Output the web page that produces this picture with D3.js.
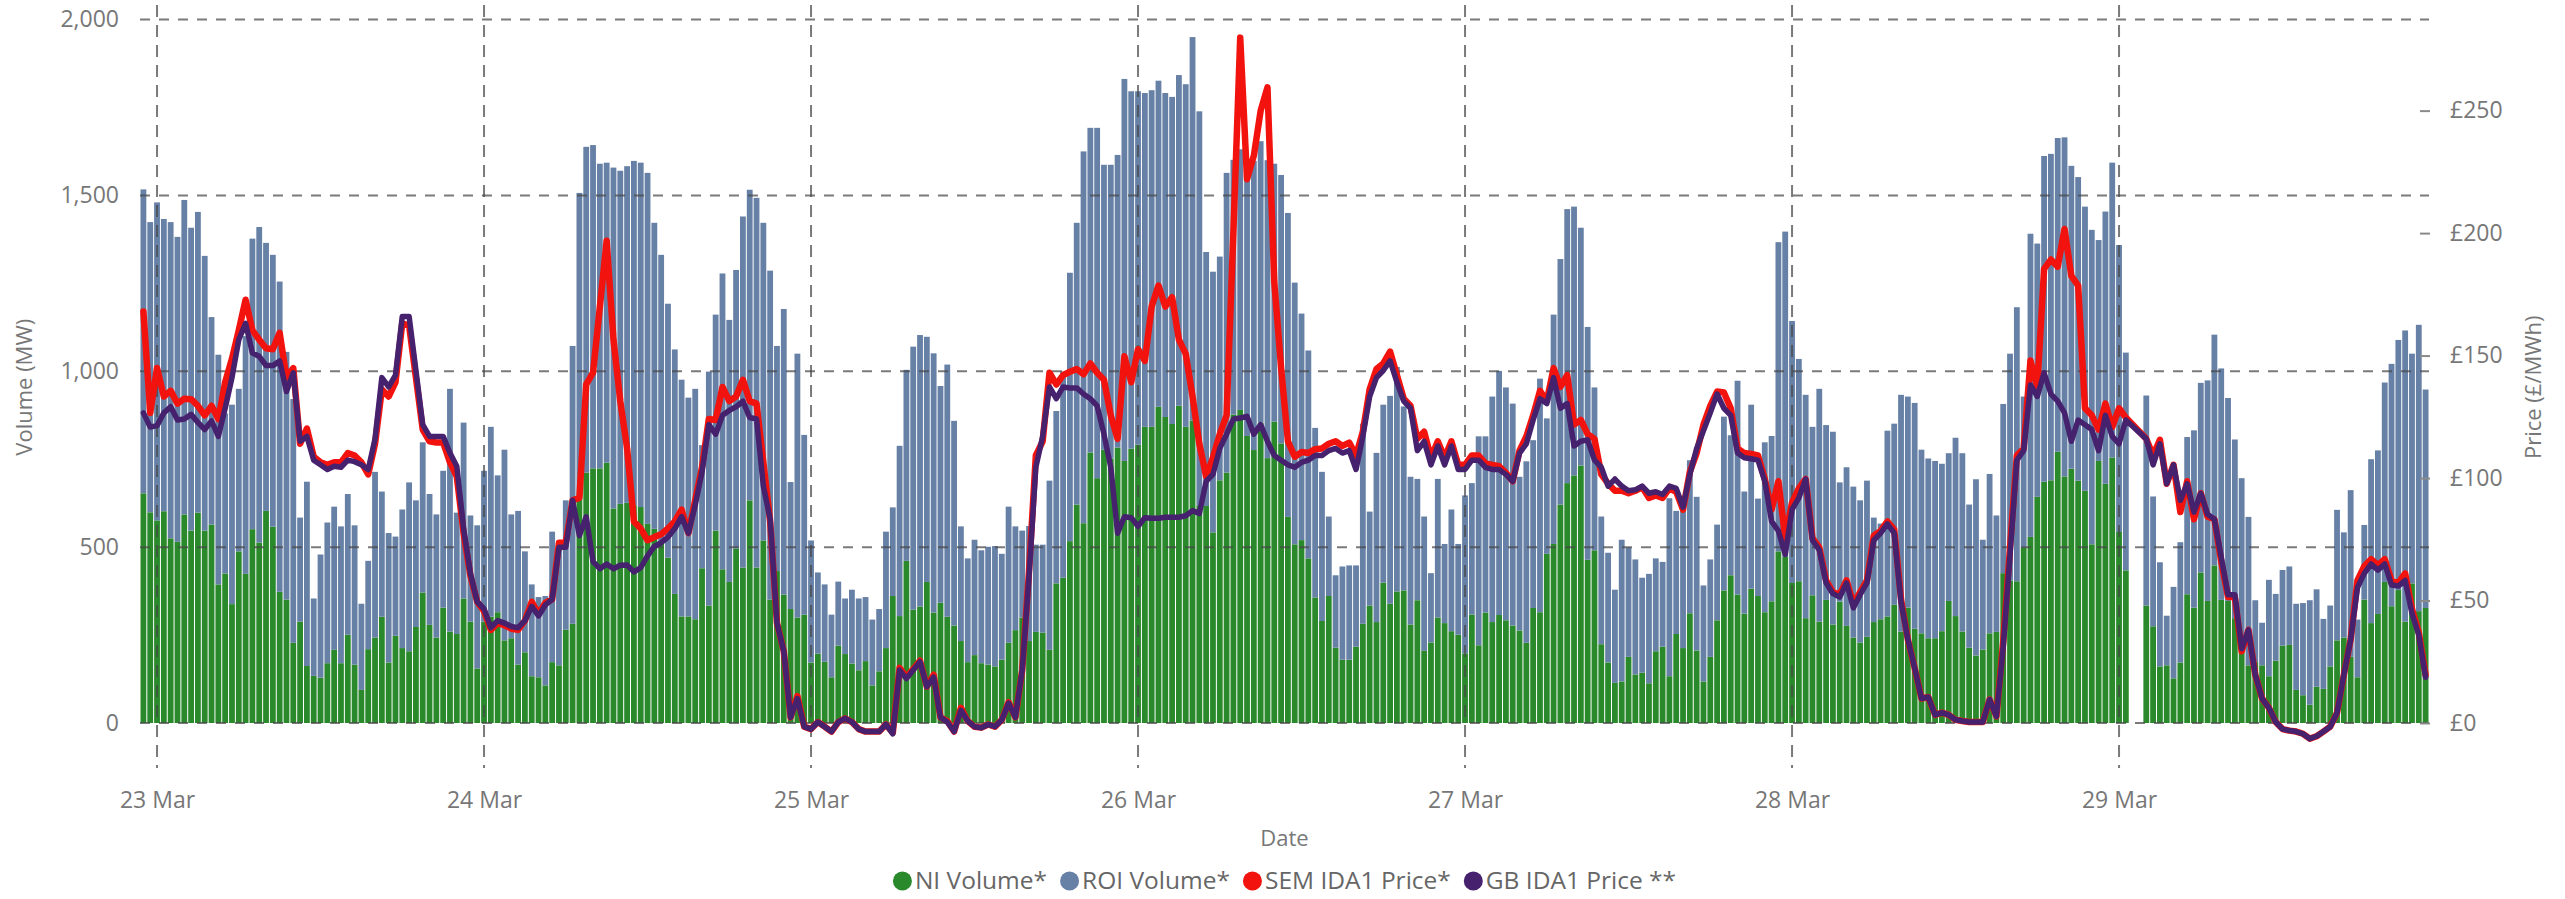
<!DOCTYPE html>
<html>
<head>
<meta charset="utf-8">
<script src="https://cdn.jsdelivr.net/npm/d3@7"></script>
<style>
  html, body { margin: 0; padding: 0; background: #fff; }
  svg { display: block; font-family: "Open Sans", "Noto Sans", sans-serif; }
</style>
</head>
<body>
<svg id="chart" width="2565" height="899"></svg>
<script>
// ---------------- DATA ----------------
// Half-hourly periods starting 22 Mar 23:00 (336 periods)
const startTime = Date.UTC(2025, 2, 22, 23, 0);
const stepMinutes = 30;

const dayLabels = ["23 Mar", "24 Mar", "25 Mar", "26 Mar", "27 Mar", "28 Mar", "29 Mar"];
const volumeTicks = [0, 500, 1000, 1500, 2000];
const priceTicks = [0, 50, 100, 150, 200, 250];
const seriesNames = ["NI Volume*", "ROI Volume*", "SEM IDA1 Price*", "GB IDA1 Price **"];

const niVolume = [
653,599,576,602,525,515,593,547,598,547,
564,394,425,338,488,424,551,513,603,558,
373,351,228,288,162,134,129,170,208,170,
251,166,94,210,243,302,172,248,213,204,
273,371,279,243,328,260,253,354,288,155,
288,302,315,235,241,166,201,133,130,107,
173,164,265,282,656,712,724,724,740,610,
623,626,619,614,566,552,512,470,367,303,
303,295,440,334,547,437,401,496,442,633,
442,519,351,432,365,324,300,308,172,197,
174,130,220,196,169,150,176,107,147,213,
361,304,461,322,331,401,314,342,302,277,
233,173,193,170,166,161,180,228,264,300,
233,259,257,208,397,413,517,621,568,769,
696,777,752,783,745,780,791,842,842,899,
870,850,902,842,860,619,617,542,690,712,
877,890,816,776,854,753,857,795,586,508,
520,468,357,290,361,214,180,180,217,282,
334,287,399,339,374,377,280,349,205,229,
300,284,261,251,198,308,221,314,287,307,
292,277,263,228,327,315,481,509,621,682,
704,732,464,491,224,172,114,118,188,138,
143,113,204,217,133,253,213,312,206,118,
188,292,377,420,365,311,382,361,315,346,
488,472,398,403,298,363,288,350,280,345,
276,243,229,245,287,295,303,336,260,328,
268,255,241,241,261,347,304,260,214,192,
209,255,259,426,405,403,499,529,643,686,
690,771,701,723,689,660,508,745,680,755,
543,434,null,null,334,275,161,164,127,172,
366,328,428,347,448,350,347,298,204,164,
173,164,133,177,220,222,94,79,52,103,
97,161,235,243,188,130,351,284,310,401,
332,378,288,397,318,327];

const roiVolume = [
864,825,904,831,899,867,894,861,855,781,
590,653,455,567,462,676,826,897,762,773,
882,704,693,296,524,220,350,400,407,389,
400,396,245,251,471,356,368,282,394,480,
360,427,372,350,389,690,345,500,302,407,
429,540,389,542,352,437,287,261,228,254,
371,348,368,790,851,926,919,866,853,969,
947,957,979,979,998,870,819,722,695,673,
622,655,350,665,614,841,745,792,998,883,
1051,903,935,640,812,361,750,511,347,231,
220,178,182,158,210,204,182,187,177,331,
252,484,543,748,772,697,737,616,717,582,
326,295,328,321,335,342,301,387,295,247,
327,248,250,481,490,586,763,801,1057,923,
996,810,835,832,1086,1016,1005,949,957,927,
921,930,940,974,1090,1120,722,741,636,852,
724,741,768,822,800,847,733,763,864,744,
644,591,482,424,226,206,265,268,231,569,
267,481,506,591,638,523,420,345,382,197,
394,225,346,258,449,374,594,501,641,694,
662,631,437,516,477,664,385,652,698,779,
764,676,662,463,363,312,265,403,311,327,
270,311,264,241,506,350,393,435,437,273,
277,272,494,398,608,347,523,277,483,470,
879,925,745,632,635,479,662,497,548,339,
451,429,404,444,297,272,528,515,673,600,
642,522,511,504,476,420,507,507,407,501,
312,453,331,481,645,779,429,862,720,926,
928,892,964,861,863,808,894,628,774,838,
816,619,null,null,597,369,296,141,260,342,
447,504,539,627,656,658,577,508,492,422,
176,121,274,190,215,223,245,262,297,277,
199,173,371,299,474,164,212,466,465,567,
689,711,828,653,814,621];

const semPrice = [
168.0,126.6,144.9,133.3,135.6,130.4,132.4,132.2,129.5,125.6,
129.5,124.1,139.1,148.7,160.3,172.8,160.3,156.5,153.0,152.6,
159.3,141.0,144.9,114.0,120.2,108.7,106.4,105.4,106.4,106.4,
110.2,109.2,106.4,101.5,114.0,136.2,133.3,139.1,163.2,162.2,
141.0,119.8,115.0,114.5,114.5,106.4,100.6,77.5,60.1,49.5,
45.7,38.0,40.8,39.9,38.5,38.0,41.8,49.5,44.5,49.0,
50.5,73.6,73.6,90.9,91.9,138.2,143.0,169.9,196.9,156.5,
131.4,112.1,82.3,79.4,74.6,75.9,77.1,79.4,82.3,87.1,
77.5,91.0,104.4,124.1,123.7,137.2,131.4,133.3,140.1,131.4,
130.4,106.4,82.3,40.8,29.3,2.3,11.0,-1.5,-2.5,0.4,
-1.5,-3.5,0.4,1.9,0.4,-2.5,-3.5,-3.5,-3.5,-0.6,
-4.0,22.5,18.7,22.0,25.4,14.8,19.7,2.3,0.8,-3.5,
6.2,0.8,-1.5,-1.9,-0.6,-1.5,1.3,8.5,2.3,21.6,
62.0,109.2,115.0,143.0,138.2,142.0,143.4,144.5,142.4,146.8,
143.0,140.1,125.6,116.0,149.7,139.1,152.6,147.8,170.0,178.6,
170.0,173.8,156.5,150.7,133.3,114.0,100.6,108.3,117.9,125.6,
200.8,279.8,222.0,231.6,250.0,259.5,180.0,145.0,115.0,108.7,
110.6,110.2,111.8,112.1,114.0,115.0,113.1,114.5,109.2,118.9,
136.2,144.5,146.8,151.6,142.0,132.4,129.5,116.0,118.9,108.3,
115.0,108.3,115.0,105.4,105.4,109.2,109.2,106.0,105.4,104.8,
102.1,98.7,111.2,117.0,125.6,135.6,131.4,144.9,137.2,142.0,
121.8,123.7,117.9,116.0,101.5,97.7,94.8,94.8,93.8,94.8,
96.3,91.9,92.9,91.9,95.8,94.4,87.1,102.5,110.2,121.8,
129.5,135.3,134.9,128.5,112.1,110.2,109.8,109.2,99.6,87.1,
98.7,75.5,90.0,95.8,99.6,75.5,71.7,58.2,53.4,52.4,
58.2,48.6,53.4,58.2,76.5,78.4,82.3,79.0,50.5,34.1,
22.5,10.0,10.6,3.3,4.2,3.3,1.3,0.8,0.4,0.4,
0.4,9.6,2.7,33.1,71.7,109.2,112.1,148.0,137.2,185.4,
189.2,186.3,201.7,182.5,178.6,128.5,125.6,119.8,130.4,120.8,
128.5,124.7,null,null,116.0,109.2,115.6,97.7,105.4,86.1,
98.7,83.2,93.8,84.2,83.2,65.9,51.4,51.4,29.3,38.0,
19.7,10.0,6.2,0.4,-2.5,-3.1,-3.5,-4.4,-6.4,-5.4,
-3.5,-1.5,4.2,19.7,34.1,58.2,64.0,66.9,64.4,66.9,
58.2,57.2,61.1,46.6,37.0,19.7];

const gbPrice = [
126.6,120.8,121.4,126.6,129.1,123.7,124.1,126.0,122.7,119.8,
123.3,117.0,128.5,141.0,156.5,163.2,151.0,149.7,145.9,145.9,
147.8,135.3,143.0,115.0,117.0,107.3,105.4,103.5,104.8,104.4,
107.3,106.7,105.4,103.5,116.0,141.0,137.2,142.0,166.0,166.0,
144.0,121.8,117.0,117.0,117.0,110.2,104.8,79.4,61.1,49.5,
46.6,38.9,41.8,40.8,39.4,38.9,41.8,47.6,43.7,48.2,
50.5,71.7,71.7,90.9,76.5,84.2,65.9,63.0,64.9,63.0,
64.4,64.5,61.7,63.4,68.2,72.1,73.6,75.9,79.4,84.2,
77.5,89.0,102.5,121.8,117.9,125.6,127.6,129.1,131.4,124.7,
124.1,96.7,83.2,40.8,29.3,2.3,10.0,-1.5,-2.5,0.4,
-1.5,-3.5,0.4,1.9,0.4,-2.5,-3.5,-3.5,-3.5,-0.6,
-4.4,21.6,18.1,21.6,25.0,14.8,18.7,2.3,0.4,-3.5,
5.2,0.8,-1.5,-1.9,-0.6,-1.5,1.3,8.1,2.3,21.6,
60.1,104.4,117.0,137.2,132.4,137.2,136.8,136.8,134.3,132.4,
129.5,117.9,104.4,77.5,84.2,83.8,80.3,83.8,83.6,83.6,
84.0,84.0,84.0,84.6,86.7,85.5,98.7,101.5,112.1,117.9,
124.1,124.5,125.2,117.9,121.8,115.0,109.2,107.3,105.4,104.4,
106.4,107.3,109.2,109.2,111.2,112.1,110.2,111.2,103.5,117.0,
133.3,141.0,143.9,147.8,139.1,131.4,128.5,111.2,115.0,105.4,
113.1,105.4,113.1,103.5,103.5,107.3,107.3,104.4,103.5,103.5,
101.5,98.7,110.2,114.0,123.7,132.4,130.4,141.0,128.5,130.4,
113.1,115.0,115.6,107.3,104.4,96.7,99.6,96.7,94.8,95.2,
96.7,93.8,94.4,93.3,96.7,95.8,88.1,101.5,112.1,119.3,
126.6,134.3,128.5,125.6,110.2,108.3,107.9,107.3,98.7,82.3,
78.4,68.8,87.1,91.9,99.6,74.6,70.7,57.2,52.8,51.4,
57.2,47.0,52.4,57.2,74.6,77.5,81.3,77.5,49.5,34.1,
22.5,10.0,10.6,3.3,4.2,3.3,1.3,0.8,0.4,0.4,
0.4,9.6,2.7,31.2,68.8,107.3,111.2,138.0,133.3,143.0,
134.3,131.4,126.6,115.0,123.7,121.8,119.8,111.2,125.6,117.0,
114.0,123.7,null,null,116.0,105.4,114.0,97.7,105.4,90.9,
97.7,86.1,93.8,85.2,83.2,67.8,52.4,52.4,30.3,38.0,
19.7,10.0,6.2,0.4,-2.5,-3.1,-3.5,-4.4,-6.4,-5.4,
-3.5,-1.5,4.2,19.7,34.1,55.3,61.1,64.9,62.4,64.9,
56.3,55.9,58.2,44.7,36.0,18.7];

// ---------------- STYLE / LAYOUT ----------------
const colors = { ni: "#2a8a2b", roi: "#6780a6", sem: "#f2130e", gb: "#45216e" };
const plot = { left: 140, right: 2429, top: 19.5, bottom: 723 };
const gridColor = "rgba(70,70,70,0.72)";
const textColor = "#777";

const svg = d3.select("#chart");
const n = niVolume.length;
const stepMs = stepMinutes * 60 * 1000;
const rows = d3.range(n).map(i => ({
  t: new Date(startTime + i * stepMs),
  ni: niVolume[i], roi: roiVolume[i], sem: semPrice[i], gb: gbPrice[i]
}));

const x = d3.scaleUtc()
  .domain([new Date(startTime - stepMs / 2), new Date(startTime + (n - 0.5) * stepMs)])
  .range([plot.left, plot.right]);
const yVol = d3.scaleLinear().domain([0, 2000]).range([plot.bottom, plot.top]);
const yPrice = d3.scaleLinear().domain([0, 287.2]).range([plot.bottom, plot.top]);

const stepPx = x(new Date(startTime + stepMs)) - x(new Date(startTime));
const barW = stepPx - 1;

// ---------------- BARS ----------------
const barRows = rows.filter(d => d.ni != null && d.roi != null);
const gBars = svg.append("g");
gBars.selectAll("rect.ni").data(barRows).join("rect")
  .attr("class", "ni")
  .attr("x", d => x(d.t) - barW / 2)
  .attr("width", barW)
  .attr("y", d => yVol(d.ni))
  .attr("height", d => yVol(0) - yVol(d.ni))
  .attr("fill", colors.ni);
gBars.selectAll("rect.roi").data(barRows).join("rect")
  .attr("class", "roi")
  .attr("x", d => x(d.t) - barW / 2)
  .attr("width", barW)
  .attr("y", d => yVol(d.ni + d.roi))
  .attr("height", d => yVol(d.ni) - yVol(d.ni + d.roi))
  .attr("fill", colors.roi);

// ---------------- GRID ----------------
const dayDates = dayLabels.map((_, k) => new Date(Date.UTC(2025, 2, 23 + k)));
const gGrid = svg.append("g");
gGrid.selectAll("line.h").data(volumeTicks).join("line")
  .attr("x1", plot.left).attr("x2", plot.right)
  .attr("y1", d => yVol(d)).attr("y2", d => yVol(d))
  .attr("stroke", gridColor).attr("stroke-width", 2)
  .attr("stroke-dasharray", "10,9");
gGrid.selectAll("line.v").data(dayDates).join("line")
  .attr("x1", d => x(d)).attr("x2", d => x(d))
  .attr("y1", 5).attr("y2", 768)
  .attr("stroke", gridColor).attr("stroke-width", 2)
  .attr("stroke-dasharray", "12,8");

// ---------------- LINES ----------------
const semLine = d3.line().x(d => x(d.t)).y(d => yPrice(d.sem));
const gbLine = d3.line().x(d => x(d.t)).y(d => yPrice(d.gb));
svg.append("path").datum(rows.filter(d => d.sem != null))
  .attr("d", semLine).attr("fill", "none")
  .attr("stroke", colors.sem).attr("stroke-width", 6.5)
  .attr("stroke-linejoin", "round").attr("stroke-linecap", "round");
svg.append("path").datum(rows.filter(d => d.gb != null))
  .attr("d", gbLine).attr("fill", "none")
  .attr("stroke", colors.gb).attr("stroke-width", 5.5)
  .attr("stroke-linejoin", "round").attr("stroke-linecap", "round");

// ---------------- AXES ----------------
const tickFont = 23;
const axL = svg.append("g").attr("transform", `translate(${plot.left},0)`)
  .call(d3.axisLeft(yVol).tickValues(volumeTicks).tickFormat(d3.format(","))
    .tickSize(0).tickPadding(21));
const axR = svg.append("g").attr("transform", `translate(2420,0)`)
  .call(d3.axisRight(yPrice).tickValues(priceTicks).tickFormat(d => "£" + d)
    .tickSize(10).tickPadding(20));
const axB = svg.append("g").attr("transform", `translate(0,${plot.bottom})`)
  .call(d3.axisBottom(x).tickValues(dayDates).tickFormat((d, i) => dayLabels[i])
    .tickSize(0));
[axL, axR, axB].forEach(a => {
  a.select(".domain").remove();
  a.selectAll("text").attr("fill", textColor).attr("font-size", tickFont)
    .attr("font-family", "Open Sans, Noto Sans, sans-serif");
});
axR.selectAll(".tick line").attr("stroke", "#8a8a8a").attr("stroke-width", 2);
axB.selectAll("text").attr("y", 77).attr("dy", "0.35em");

// axis titles
const titleFont = 22;
svg.append("text").attr("transform", `translate(24,${(plot.top + plot.bottom) / 2 + 16}) rotate(-90)`)
  .attr("text-anchor", "middle").attr("dy", "0.35em")
  .attr("fill", textColor).attr("font-size", titleFont).text("Volume (MW)");
svg.append("text").attr("transform", `translate(2533,${(plot.top + plot.bottom) / 2 + 16}) rotate(-90)`)
  .attr("text-anchor", "middle").attr("dy", "0.35em")
  .attr("fill", textColor).attr("font-size", titleFont).text("Price (£/MWh)");
svg.append("text").attr("x", (plot.left + plot.right) / 2).attr("y", 838)
  .attr("text-anchor", "middle").attr("dy", "0.35em")
  .attr("fill", textColor).attr("font-size", titleFont).text("Date");

// ---------------- LEGEND ----------------
const legendColors = [colors.ni, colors.roi, colors.sem, colors.gb];
const gLeg = svg.append("g");
let cursor = 0;
seriesNames.forEach((name, i) => {
  const g = gLeg.append("g").attr("transform", `translate(${cursor},0)`);
  g.append("circle").attr("cx", 9.5).attr("cy", 0).attr("r", 9.5).attr("fill", legendColors[i]);
  const t = g.append("text").attr("x", 22).attr("y", 0).attr("dy", "0.33em")
    .attr("fill", "#666").attr("font-size", 24.5).text(name);
  cursor += 22 + t.node().getComputedTextLength() + 13;
});
const legW = cursor - 13;
gLeg.attr("transform", `translate(${(plot.left + plot.right) / 2 - legW / 2},881)`);
</script>
</body>
</html>
